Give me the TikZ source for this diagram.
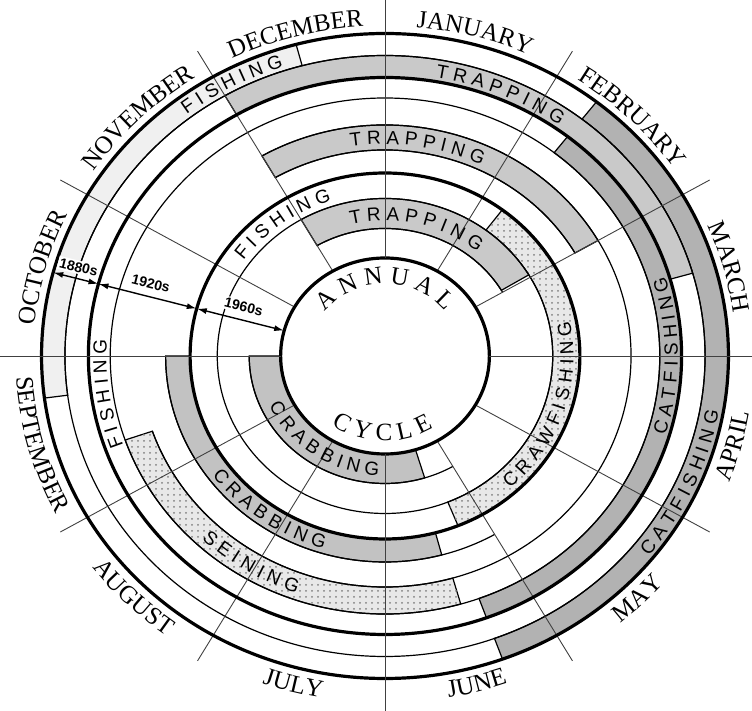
\documentclass[tikz,border=0pt]{standalone}
\usepackage{fontspec}
\setmainfont{Liberation Serif}
\newfontfamily\actfont{Liberation Sans}
\usetikzlibrary{arrows.meta,decorations.text,patterns}

\def\xs{1.065}
\newcommand\mfont{\fontsize{12.5}{14}\selectfont}
\newcommand\afont{\actfont\fontsize{9.5}{11}\selectfont}
\newcommand\cfont{\fontsize{12.5}{14}\selectfont}
\newcommand\band[5]{\filldraw[#1] (#4:#3) arc[start angle=#4,end angle=#5,radius=#3] -- (#5:#2) arc[start angle=#5,end angle=#4,radius=#2] -- cycle;}
\newcommand\arctext[5]{\path[decorate,decoration={text along path,text align=center,text={|#4|#5}}] ({\xs*#1*cos(#2)},{#1*sin(#2)}) arc[start angle=#2,end angle=#3,x radius=\xs*#1,y radius=#1];}

\begin{document}
\begin{tikzpicture}[x=0.5pt,y=0.5pt,
  thickring/.style={line width=1.6pt},
  thinring/.style={line width=0.6pt},
  radial/.style={line width=0.45pt,black!75},
  trapband/.style={fill=black!21,line width=0.6pt},
  catband/.style={fill=black!30,line width=0.6pt},
  crabband/.style={fill=black!24,line width=0.6pt},
  dotband/.style={fill=black!9,postaction={pattern=dots,pattern color=black!50},line width=0.6pt},
  fishband/.style={fill=black!6,line width=0.6pt},
  era/.style={fill=white,inner sep=0.8pt,font=\actfont\bfseries\fontsize{7}{8}\selectfont},
  dblarrow/.style={{Latex[length=5pt,width=3pt]}-{Latex[length=5pt,width=3pt]},line width=0.7pt}]
\useasboundingbox (-385,-355) rectangle (367,356);
\begin{scope}[xscale=\xs]
\band{fishband}{300.5}{322.5}{187.5}{105}
\band{catband}{300.5}{322.5}{52}{-70}
\band{trapband}{278.5}{300.5}{120}{16}
\band{catband}{258}{278.5}{52}{-70}
\band{dotband}{231}{258}{199}{286}
\band{trapband}{206}{231}{120}{30}
\band{crabband}{183}{206}{180}{285}
\band{dotband}{157.5}{183}{53}{-68}
\band{trapband}{127.5}{157.5}{120}{31}
\band{crabband}{98}{127.5}{180}{287}
\foreach \r in {300.5,258,157.5} \draw[thinring] (0,0) circle[radius=\r];
\draw[thinring] (120:231) arc[start angle=120,end angle=-161,radius=231];
\draw[thinring] (30:206) arc[start angle=30,end angle=120,radius=206] (180:206) arc[start angle=180,end angle=300,radius=206];
\draw[thinring] (30:127.5) arc[start angle=30,end angle=120,radius=127.5] (180:127.5) arc[start angle=180,end angle=300,radius=127.5];
\foreach \a in {30,60,120,150,210,240,300,330} \draw[radial] (\a:98) -- (\a:352);
\foreach \r in {322.5,278.5,183,98} \draw[thickring] (0,0) circle[radius=\r];
\coordinate (e0) at (165:322.5);
\coordinate (e1) at (165:278.5);
\coordinate (e2) at (165:183);
\coordinate (e3) at (165:98);
\end{scope}
\draw[radial] (0,98) -- (0,356);
\draw[radial] (0,-98) -- (0,-355);
\draw[radial] (-104.4,0) -- (-385,0);
\draw[radial] (104.4,0) -- (367,0);
\draw[dblarrow] (e0) -- (e1) node[era,midway,above=2pt,sloped] (l1880) {1880s};
\draw[dblarrow] (e1) -- (e2) node[era,midway,above=3pt,sloped] (l1920) {1920s};
\draw[dblarrow] (e2) -- (e3) node[era,midway,above=3pt,sloped] (l1960) {1960s};
\arctext{330}{205}{125}{\mfont}{OCTOBER}
\arctext{330}{175}{95}{\mfont}{NOVEMBER}
\arctext{330}{145}{65}{\mfont}{DECEMBER}
\arctext{330}{115}{35}{\mfont}{JANUARY}
\arctext{330}{85}{5}{\mfont}{FEBRUARY}
\arctext{330}{55}{-25}{\mfont}{MARCH}
\arctext{347}{-55}{25}{\mfont}{APRIL}
\arctext{347}{-85}{-5}{\mfont}{MAY}
\arctext{347}{-115}{-35}{\mfont}{JUNE}
\arctext{347}{-145}{-65}{\mfont}{JULY}
\arctext{347}{-175}{-95}{\mfont}{AUGUST}
\arctext{347}{-205}{-125}{\mfont}{SEPTEMBER}
\arctext{304.7}{158.5}{78.5}{\afont}{F I S H I N G}
\arctext{282.7}{107}{27}{\afont}{T R A P P I N G}
\arctext{318.3}{-64}{16}{\afont}{C A T F I S H I N G}
\arctext{211.7}{126.5}{36.5}{\afont}{T R A P P I N G}
\arctext{275}{-45}{45}{\afont}{C A T F I S H I N G}
\arctext{261.5}{233}{143}{\afont}{F I S H I N G}
\arctext{251.3}{193}{283}{\afont}{S E I N I N G}
\arctext{201.3}{184}{284}{\afont}{C R A B B I N G}
\arctext{163.5}{177}{77}{\afont}{F I S H I N G}
\arctext{135.7}{126.6}{26.6}{\afont}{T R A P P I N G}
\arctext{177}{-78}{42}{\afont}{C R A W F I S H I N G}
\arctext{119.5}{175}{295}{\afont}{C R A B B I N G}
\arctext{72}{150}{30}{\cfont}{A N N U A L}
\arctext{85}{208}{328}{\cfont}{C Y C L E}
\end{tikzpicture}
\end{document}
